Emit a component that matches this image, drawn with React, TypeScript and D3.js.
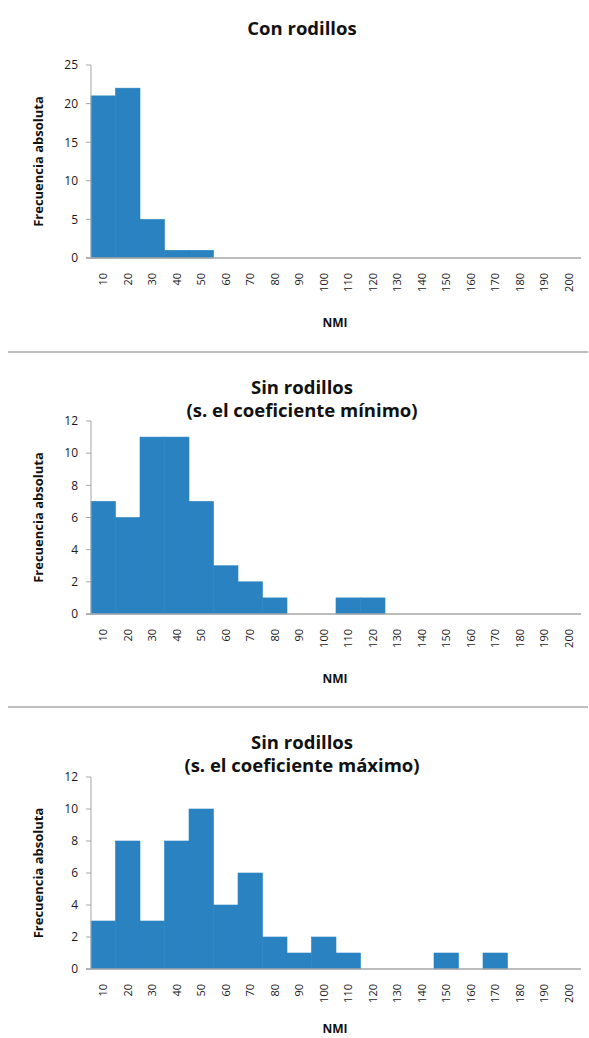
import React, { useEffect, useRef } from "react";
import * as d3 from "d3";

const categories = ["10","20","30","40","50","60","70","80","90","100","110","120","130","140","150","160","170","180","190","200"];

const conRodillos = [21, 22, 5, 1, 1, 0, 0, 0, 0, 0, 0, 0, 0, 0, 0, 0, 0, 0, 0, 0];
const sinRodillosMin = [7, 6, 11, 11, 7, 3, 2, 1, 0, 0, 1, 1, 0, 0, 0, 0, 0, 0, 0, 0];
const sinRodillosMax = [3, 8, 3, 8, 10, 4, 6, 2, 1, 2, 1, 0, 0, 0, 1, 0, 1, 0, 0, 0];

const titles1 = ["Con rodillos"];
const titles2 = ["Sin rodillos", "(s. el coeficiente mínimo)"];
const titles3 = ["Sin rodillos", "(s. el coeficiente máximo)"];

const yTicks1 = [0, 5, 10, 15, 20, 25];
const yTicks2 = [0, 2, 4, 6, 8, 10, 12];
const yTicks3 = [0, 2, 4, 6, 8, 10, 12];

const xTitle = "NMI";
const yTitle = "Frecuencia absoluta";

const W = 589;
const H = 1038;
const BAR = "#2a82c1";
const AXIS = "#a6a6a6";
const FONT = "'Open Sans', 'DejaVu Sans', sans-serif";

const panels = [
  { titles: titles1, values: conRodillos, ticks: yTicks1, top: 65, bottom: 258, titleBase: [35] },
  { titles: titles2, values: sinRodillosMin, ticks: yTicks2, top: 421, bottom: 614, titleBase: [394, 417] },
  { titles: titles3, values: sinRodillosMax, ticks: yTicks3, top: 777, bottom: 969, titleBase: [749, 772] },
];
const separators = [352, 707];

export default function App() {
  const ref = useRef<SVGSVGElement>(null);
  useEffect(() => {
    const svg = d3.select(ref.current);
    svg.selectAll("*").remove();
    const left = 91, right = 581;
    const x = d3.scaleBand<string>().domain(categories).range([left, right]).padding(0);

    separators.forEach((sy) => {
      svg.append("line").attr("x1", 8).attr("x2", 588).attr("y1", sy).attr("y2", sy)
        .attr("stroke", "#a8a8a8").attr("stroke-width", 1.5);
    });

    panels.forEach((p) => {
      const g = svg.append("g");
      const maxV = p.ticks[p.ticks.length - 1];
      const y = d3.scaleLinear().domain([0, maxV]).range([p.bottom, p.top]);

      // title
      p.titles.forEach((t, i) => {
        g.append("text").attr("x", 302).attr("y", p.titleBase[i]).attr("text-anchor", "middle")
          .attr("font-family", FONT).attr("font-weight", 700).attr("font-size", 18.5)
          .attr("fill", "#111").text(t);
      });

      // bars
      g.selectAll("rect.bar").data(p.values.map((v, i) => ({ v, c: categories[i] })).filter((d) => d.v > 0))
        .enter().append("rect").attr("class", "bar")
        .attr("x", (d) => x(d.c)!).attr("width", x.bandwidth())
        .attr("y", (d) => y(d.v)).attr("height", (d) => y(0) - y(d.v))
        .attr("fill", BAR).attr("stroke", BAR).attr("stroke-width", 0.6);

      // y axis
      g.append("line").attr("x1", left).attr("x2", left).attr("y1", p.top).attr("y2", p.bottom)
        .attr("stroke", AXIS).attr("stroke-width", 1);
      p.ticks.forEach((t) => {
        g.append("line").attr("x1", left - 5).attr("x2", left).attr("y1", y(t)).attr("y2", y(t))
          .attr("stroke", AXIS).attr("stroke-width", 1);
        g.append("text").attr("x", 78).attr("y", y(t)).attr("dy", "0.36em").attr("text-anchor", "end")
          .attr("font-family", FONT).attr("font-size", 12).attr("fill", "#1a1a1a").text(String(t));
      });

      // x axis
      g.append("line").attr("x1", left - 5).attr("x2", right).attr("y1", p.bottom).attr("y2", p.bottom)
        .attr("stroke", AXIS).attr("stroke-width", 1.5);
      categories.forEach((c) => {
        const cx = x(c)! + x.bandwidth() / 2;
        g.append("text").attr("transform", `translate(${cx},${p.bottom + 15}) rotate(-90)`)
          .attr("text-anchor", "end").attr("dy", "0.35em")
          .attr("font-family", FONT).attr("font-size", 11).attr("fill", "#1a1a1a").text(c);
      });

      // axis titles
      g.append("text").attr("x", 335).attr("y", Math.min(p.bottom + 69, H - 5)).attr("text-anchor", "middle")
        .attr("font-family", FONT).attr("font-weight", 700).attr("font-size", 12).attr("fill", "#111").text(xTitle);
      g.append("text").attr("transform", `translate(38,${(p.top + p.bottom) / 2}) rotate(-90)`)
        .attr("text-anchor", "middle").attr("dy", "0.35em")
        .attr("font-family", FONT).attr("font-weight", 700).attr("font-size", 13).attr("fill", "#111").text(yTitle);
    });
  }, []);

  return (
    <svg ref={ref} width={W} height={H}
      style={{ position: "absolute", left: 0, top: 0, background: "#fff", display: "block" }} />
  );
}
